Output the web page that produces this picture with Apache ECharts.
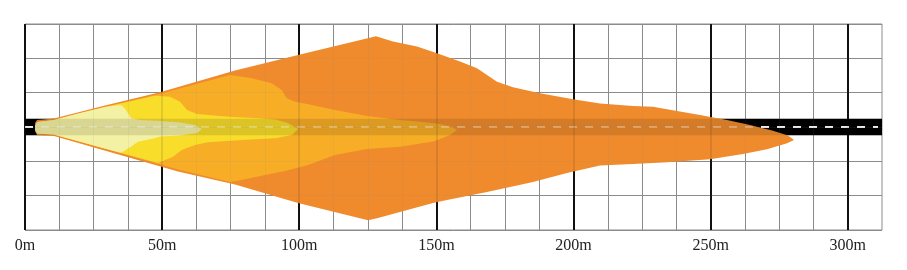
<!DOCTYPE html>
<html><head><meta charset="utf-8">
<script src="https://cdn.jsdelivr.net/npm/echarts@6/dist/echarts.min.js"></script>
<style>html,body{margin:0;padding:0;background:#fff}#c{width:907px;height:270px}</style>
</head><body><div id="c"></div>
<script>
// Axis ranges (metres)
const X_MIN = 0, X_MAX = 312.5, Y_MIN = -37.5, Y_MAX = 37.5;
const xTickValues = [0, 50, 100, 150, 200, 250, 300];
const xTickLabels = ['0m', '50m', '100m', '150m', '200m', '250m', '300m'];
const roadHalfWidth = 3;

// Beam zones: outline points (distance m, lateral m), outer -> inner
const orangeX = [3.65,4.38,10.57,29.17,49.59,76.58,99.55,127.99,134.19,142.94,150.24,158.62,164.82,168.47,172.11,177.95,187.79,199.83,209.67,221.71,229.00,234.11,246.14,255.98,264.37,272.76,278.23,280.41,277.87,270.57,261.82,249.79,234.11,221.71,209.67,197.64,185.24,168.47,153.88,148.78,128.36,125.07,99.55,76.58,55.79,27.71,10.57,4.38,3.65];
const orangeY = [1.46,2.55,3.10,7.84,12.76,20.60,26.25,33.00,31.10,29.28,26.87,23.81,21.40,18.96,16.52,14.48,12.29,10.10,8.57,7.66,7.40,6.45,4.38,2.55,0.73,-1.35,-3.10,-4.74,-5.94,-8.13,-9.85,-11.78,-12.87,-13.49,-14.04,-16.77,-20.06,-23.70,-26.62,-27.71,-33.18,-33.91,-27.71,-20.97,-16.23,-8.20,-3.28,-2.92,-1.46];

const goldX = [4.38,10.57,29.17,49.59,74.75,82.67,89.96,93.61,95.43,98.46,103.31,113.04,124.71,136.74,144.04,151.33,155.71,157.53,154.98,151.33,148.78,136.74,124.71,113.04,103.20,94.81,87.52,79.02,74.75,55.79,27.71,10.57,4.38];
const goldY = [1.82,2.55,7.29,12.22,18.96,17.76,15.94,13.49,10.47,9.23,8.28,6.20,4.01,2.55,1.93,1.09,0,-1.09,-2.92,-4.38,-5.29,-7.18,-8.02,-10.21,-13.86,-16.04,-17.50,-19.33,-20.00,-15.50,-7.48,-2.73,-2.37];

const yellowX = [4.38,10.57,29.17,47.40,52.87,56.52,59.07,62.72,74.02,84.96,91.16,95.90,99.55,97.36,91.16,79.02,66.73,61.99,57.14,53.97,48.50,27.71,10.57,4.38];
const yellowY = [1.82,2.55,7.29,11.40,11.05,9.23,6.20,4.74,3.76,3.17,2.73,1.46,-0.73,-2.92,-4.12,-4.74,-5.58,-6.56,-8.39,-10.83,-13.10,-7.48,-2.73,-2.37];

const paleX = [3.65,4.38,10.57,19.33,29.17,35.01,36.36,37.56,38.65,41.93,49.23,56.52,61.99,64.54,62.72,56.52,49.23,47.30,41.21,38.65,35.01,27.71,10.57,4.38,3.65];
const paleY = [0.36,1.82,2.55,4.92,7.29,8.02,6.82,5.00,3.17,2.55,2.19,1.64,0.73,-0.73,-2.19,-3.10,-3.46,-4.12,-5.36,-7.18,-9.40,-7.48,-2.73,-2.37,-1.09];

const zones = [
  { xs: orangeX, ys: orangeY, color: '#ef8b2c' },
  { xs: goldX,   ys: goldY,   color: '#f8ad27' },
  { xs: yellowX, ys: yellowY, color: '#f9dd2b' },
  { xs: paleX,   ys: paleY,   color: '#f3f1a3' }
];

function zoneSeries(z) {
  return {
    type: 'custom', coordinateSystem: 'cartesian2d', silent: true, z: 2,
    data: [[z.xs[0], z.ys[0]]],
    renderItem: function (params, api) {
      return {
        type: 'polygon',
        shape: { points: z.xs.map((x, i) => api.coord([x, z.ys[i]])) },
        style: { fill: z.color }
      };
    }
  };
}

function roadSeries(zz, op, dashOp) {
  return {
    type: 'custom', coordinateSystem: 'cartesian2d', silent: true, z: zz,
    data: [[X_MIN, 0]],
    renderItem: function (params, api) {
      const a = api.coord([X_MIN, roadHalfWidth]);
      const b = api.coord([X_MAX, -roadHalfWidth]);
      const c = api.coord([X_MIN, 0]);
      return {
        type: 'group',
        children: [
          { type: 'rect', shape: { x: a[0], y: a[1], width: b[0] - a[0], height: b[1] - a[1] },
            style: { fill: '#000', opacity: op } },
          { type: 'line', shape: { x1: a[0], y1: c[1], x2: b[0] - 4, y2: c[1] },
            style: { stroke: '#fff', lineWidth: 2, lineDash: [8, 8], opacity: dashOp } }
        ]
      };
    }
  };
}

function xAxisDef(op, zz, showLabel) {
  return {
    type: 'value', min: X_MIN, max: X_MAX, interval: 50, z: zz,
    axisLine: { show: false }, axisTick: { show: false },
    axisLabel: {
      show: showLabel, margin: 8, color: '#222', fontSize: 16, fontFamily: 'Liberation Serif',
      formatter: v => { const i = xTickValues.indexOf(v); return i >= 0 ? xTickLabels[i] : ''; }
    },
    splitLine: { show: true, showMaxLine: false, lineStyle: { color: '#111', width: 2, opacity: op } },
    minorTick: { show: false, splitNumber: 4 },
    minorSplitLine: { show: true, lineStyle: { color: '#8c8c8c', width: 1, opacity: op } }
  };
}
function yAxisDef(op, zz) {
  return {
    type: 'value', min: Y_MIN, max: Y_MAX, interval: 12.5, z: zz,
    axisLine: { show: false }, axisTick: { show: false }, axisLabel: { show: false },
    splitLine: { show: true, lineStyle: { color: '#8c8c8c', width: 1, opacity: op } }
  };
}

const chart = echarts.init(document.getElementById('c'), null, { renderer: 'canvas' });
chart.setOption({
  animation: false,
  backgroundColor: '#fff',
  grid: { left: 25, right: 25, top: 24, bottom: 40, show: true, borderColor: '#8c8c8c', borderWidth: 1 },
  xAxis: [xAxisDef(1, 0, true), xAxisDef(0.1, 10, false)],
  yAxis: [yAxisDef(1, 0), yAxisDef(0.1, 10)],
  series: [roadSeries(1, 1, 1)].concat(zones.map(zoneSeries)).concat([roadSeries(3, 0.11, 0.3)])
});
</script>
</body></html>
